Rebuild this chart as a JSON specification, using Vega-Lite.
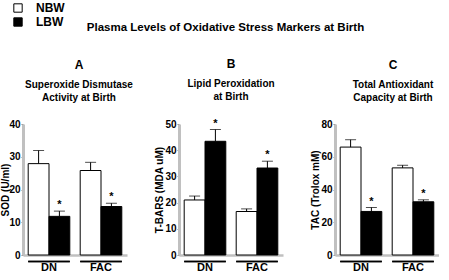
{
  "$schema": "https://vega.github.io/schema/vega-lite/v6.json",
  "padding": {"left": 0, "top": 2, "right": 0, "bottom": 0},
  "background": "white",
  "title": {"text": "Plasma Levels of Oxidative Stress Markers at Birth", "fontSize": 11.5, "fontWeight": "bold", "font": "Liberation Sans", "color": "black", "anchor": "middle", "offset": -31, "dx": 6},
  "datasets": {
    "oxid": [
      {"panel": "A", "group": "DN", "bw": "NBW", "value": 27.9, "upper": 31.9},
      {"panel": "A", "group": "DN", "bw": "LBW", "value": 11.8, "upper": 13.4},
      {"panel": "A", "group": "FAC", "bw": "NBW", "value": 25.8, "upper": 28.3},
      {"panel": "A", "group": "FAC", "bw": "LBW", "value": 14.8, "upper": 15.8},
      {"panel": "B", "group": "DN", "bw": "NBW", "value": 21.0, "upper": 22.5},
      {"panel": "B", "group": "DN", "bw": "LBW", "value": 43.4, "upper": 47.9},
      {"panel": "B", "group": "FAC", "bw": "NBW", "value": 16.6, "upper": 17.6},
      {"panel": "B", "group": "FAC", "bw": "LBW", "value": 33.2, "upper": 35.8},
      {"panel": "C", "group": "DN", "bw": "NBW", "value": 65.9, "upper": 70.4},
      {"panel": "C", "group": "DN", "bw": "LBW", "value": 26.6, "upper": 29.0},
      {"panel": "C", "group": "FAC", "bw": "NBW", "value": 53.2, "upper": 54.8},
      {"panel": "C", "group": "FAC", "bw": "LBW", "value": 32.5, "upper": 33.7}
    ]
  },
  "data": {"name": "oxid"},
  "bounds": "flush",
  "spacing": 52,
  "config": {
    "font": "Liberation Sans",
    "view": {"stroke": null},
    "axis": {"labelFont": "Liberation Sans", "titleFont": "Liberation Sans", "labelColor": "black", "titleColor": "black", "labelFontWeight": "bold", "titleFontWeight": "bold", "grid": false, "labelOverlap": false, "labelFlush": false},
    "axisY": {"domainColor": "#c0c0c0", "domainWidth": 3, "tickColor": "#888", "tickSize": 2, "labelFontSize": 10, "labelPadding": 1, "titleFontSize": 10, "titleBaseline": "middle"},
    "axisX": {"domainColor": "#c0c0c0", "domainWidth": 2.5, "ticks": false, "labelFontSize": 11, "labelPadding": 6, "labelAngle": 0, "title": null},
    "legend": {"title": null, "symbolType": "square", "symbolSize": 70, "symbolStrokeColor": "black", "symbolStrokeWidth": 1, "labelFont": "Liberation Sans", "labelFontSize": 12, "labelFontWeight": "bold", "labelColor": "black", "rowPadding": 0, "labelOffset": 12}
  },
  "hconcat": [
    {
      "width": 104, "height": 131,
      "title": {"text": "A", "subtitle": ["Superoxide Dismutase", "Activity at Birth"], "fontSize": 12, "fontWeight": "bold", "color": "black", "subtitleFontSize": 10, "subtitleFontWeight": "bold", "subtitleColor": "black", "subtitlePadding": 8, "subtitleLineHeight": 13, "offset": 15, "anchor": "middle", "dx": 4},
      "transform": [{"filter": "datum.panel == 'A'"}],
      "encoding": {"x": {"field": "group", "type": "nominal", "sort": ["DN", "FAC"], "scale": {"paddingInner": 0.2, "paddingOuter": 0.1}}},
      "layer": [
        {"mark": {"type": "bar", "stroke": "black", "strokeWidth": 1},
         "encoding": {
           "xOffset": {"field": "bw", "type": "nominal", "sort": ["NBW", "LBW"], "scale": {"paddingInner": 0, "paddingOuter": 0}},
           "y": {"field": "value", "type": "quantitative", "title": "SOD (U/ml)", "scale": {"domain": [0, 40], "nice": false}, "axis": {"values": [0, 10, 20, 30, 40], "titleX": -18, "labelOverlap": false}},
           "fill": {"field": "bw", "type": "nominal", "scale": {"domain": ["NBW", "LBW"], "range": ["white", "black"]}, "legend": {"orient": "none", "legendX": -11, "legendY": -122, "title": null}}}},
        {"mark": {"type": "rule", "color": "black", "strokeWidth": 1},
         "encoding": {
           "xOffset": {"field": "bw", "type": "nominal", "sort": ["NBW", "LBW"]},
           "y": {"field": "value", "type": "quantitative", "title": "SOD (U/ml)", "scale": {"domain": [0, 40], "nice": false}, "axis": {"values": [0, 10, 20, 30, 40], "titleX": -18, "labelOverlap": false}},
           "y2": {"field": "upper"}}},
        {"mark": {"type": "tick", "color": "black", "size": 11, "thickness": 1},
         "encoding": {
           "xOffset": {"field": "bw", "type": "nominal", "sort": ["NBW", "LBW"]},
           "y": {"field": "upper", "type": "quantitative", "title": "SOD (U/ml)", "scale": {"domain": [0, 40], "nice": false}, "axis": {"values": [0, 10, 20, 30, 40], "titleX": -18, "labelOverlap": false}}}},
        {"transform": [{"filter": "datum.bw == 'LBW'"}],
         "mark": {"type": "text", "text": "*", "baseline": "bottom", "dy": -1, "fontSize": 11, "fontWeight": "bold", "color": "black"},
         "encoding": {
           "xOffset": {"field": "bw", "type": "nominal", "sort": ["NBW", "LBW"]},
           "y": {"field": "upper", "type": "quantitative", "title": "SOD (U/ml)", "scale": {"domain": [0, 40], "nice": false}, "axis": {"values": [0, 10, 20, 30, 40], "titleX": -18, "labelOverlap": false}}}},
        {"mark": {"type": "bar", "color": "black", "clip": false},
         "encoding": {
           "y": {"datum": -1.75, "type": "quantitative", "title": "SOD (U/ml)", "scale": {"domain": [0, 40], "nice": false}, "axis": {"values": [0, 10, 20, 30, 40], "titleX": -18, "labelOverlap": false}},
           "y2": {"datum": -2.2}}}
      ]
    },
    {
      "width": 104, "height": 131,
      "title": {"text": "B", "subtitle": ["Lipid Peroxidation", "at Birth"], "fontSize": 12, "fontWeight": "bold", "color": "black", "subtitleFontSize": 10, "subtitleFontWeight": "bold", "subtitleColor": "black", "subtitlePadding": 8, "subtitleLineHeight": 13, "offset": 15, "anchor": "middle"},
      "transform": [{"filter": "datum.panel == 'B'"}],
      "encoding": {"x": {"field": "group", "type": "nominal", "sort": ["DN", "FAC"], "scale": {"paddingInner": 0.2, "paddingOuter": 0.1}}},
      "layer": [
        {"mark": {"type": "bar", "stroke": "black", "strokeWidth": 1},
         "encoding": {
           "xOffset": {"field": "bw", "type": "nominal", "sort": ["NBW", "LBW"], "scale": {"paddingInner": 0, "paddingOuter": 0}},
           "y": {"field": "value", "type": "quantitative", "title": "T-BARS (MDA uM)", "scale": {"domain": [0, 50], "nice": false}, "axis": {"values": [0, 10, 20, 30, 40, 50], "titleX": -20, "labelOverlap": false}},
           "fill": {"field": "bw", "type": "nominal", "scale": {"domain": ["NBW", "LBW"], "range": ["white", "black"]}, "legend": {"orient": "none", "legendX": -11, "legendY": -122, "title": null}}}},
        {"mark": {"type": "rule", "color": "black", "strokeWidth": 1},
         "encoding": {
           "xOffset": {"field": "bw", "type": "nominal", "sort": ["NBW", "LBW"]},
           "y": {"field": "value", "type": "quantitative", "title": "T-BARS (MDA uM)", "scale": {"domain": [0, 50], "nice": false}, "axis": {"values": [0, 10, 20, 30, 40, 50], "titleX": -20, "labelOverlap": false}},
           "y2": {"field": "upper"}}},
        {"mark": {"type": "tick", "color": "black", "size": 11, "thickness": 1},
         "encoding": {
           "xOffset": {"field": "bw", "type": "nominal", "sort": ["NBW", "LBW"]},
           "y": {"field": "upper", "type": "quantitative", "title": "T-BARS (MDA uM)", "scale": {"domain": [0, 50], "nice": false}, "axis": {"values": [0, 10, 20, 30, 40, 50], "titleX": -20, "labelOverlap": false}}}},
        {"transform": [{"filter": "datum.bw == 'LBW'"}],
         "mark": {"type": "text", "text": "*", "baseline": "bottom", "dy": -1, "fontSize": 11, "fontWeight": "bold", "color": "black"},
         "encoding": {
           "xOffset": {"field": "bw", "type": "nominal", "sort": ["NBW", "LBW"]},
           "y": {"field": "upper", "type": "quantitative", "title": "T-BARS (MDA uM)", "scale": {"domain": [0, 50], "nice": false}, "axis": {"values": [0, 10, 20, 30, 40, 50], "titleX": -20, "labelOverlap": false}}}},
        {"mark": {"type": "bar", "color": "black", "clip": false},
         "encoding": {
           "y": {"datum": -2.2, "type": "quantitative", "title": "T-BARS (MDA uM)", "scale": {"domain": [0, 50], "nice": false}, "axis": {"values": [0, 10, 20, 30, 40, 50], "titleX": -20, "labelOverlap": false}},
           "y2": {"datum": -2.75}}}
      ]
    },
    {
      "width": 104, "height": 131,
      "title": {"text": "C", "subtitle": ["Total Antioxidant", "Capacity at Birth"], "fontSize": 12, "fontWeight": "bold", "color": "black", "subtitleFontSize": 10, "subtitleFontWeight": "bold", "subtitleColor": "black", "subtitlePadding": 8, "subtitleLineHeight": 13, "offset": 15, "anchor": "middle", "dx": 6},
      "transform": [{"filter": "datum.panel == 'C'"}],
      "encoding": {"x": {"field": "group", "type": "nominal", "sort": ["DN", "FAC"], "scale": {"paddingInner": 0.2, "paddingOuter": 0.1}}},
      "layer": [
        {"mark": {"type": "bar", "stroke": "black", "strokeWidth": 1},
         "encoding": {
           "xOffset": {"field": "bw", "type": "nominal", "sort": ["NBW", "LBW"], "scale": {"paddingInner": 0, "paddingOuter": 0}},
           "y": {"field": "value", "type": "quantitative", "title": "TAC (Trolox mM)", "scale": {"domain": [0, 80], "nice": false}, "axis": {"values": [0, 20, 40, 60, 80], "titleX": -20, "labelOverlap": false}},
           "fill": {"field": "bw", "type": "nominal", "scale": {"domain": ["NBW", "LBW"], "range": ["white", "black"]}, "legend": {"orient": "none", "legendX": -11, "legendY": -122, "title": null}}}},
        {"mark": {"type": "rule", "color": "black", "strokeWidth": 1},
         "encoding": {
           "xOffset": {"field": "bw", "type": "nominal", "sort": ["NBW", "LBW"]},
           "y": {"field": "value", "type": "quantitative", "title": "TAC (Trolox mM)", "scale": {"domain": [0, 80], "nice": false}, "axis": {"values": [0, 20, 40, 60, 80], "titleX": -20, "labelOverlap": false}},
           "y2": {"field": "upper"}}},
        {"mark": {"type": "tick", "color": "black", "size": 11, "thickness": 1},
         "encoding": {
           "xOffset": {"field": "bw", "type": "nominal", "sort": ["NBW", "LBW"]},
           "y": {"field": "upper", "type": "quantitative", "title": "TAC (Trolox mM)", "scale": {"domain": [0, 80], "nice": false}, "axis": {"values": [0, 20, 40, 60, 80], "titleX": -20, "labelOverlap": false}}}},
        {"transform": [{"filter": "datum.bw == 'LBW'"}],
         "mark": {"type": "text", "text": "*", "baseline": "bottom", "dy": -1, "fontSize": 11, "fontWeight": "bold", "color": "black"},
         "encoding": {
           "xOffset": {"field": "bw", "type": "nominal", "sort": ["NBW", "LBW"]},
           "y": {"field": "upper", "type": "quantitative", "title": "TAC (Trolox mM)", "scale": {"domain": [0, 80], "nice": false}, "axis": {"values": [0, 20, 40, 60, 80], "titleX": -20, "labelOverlap": false}}}},
        {"mark": {"type": "bar", "color": "black", "clip": false},
         "encoding": {
           "y": {"datum": -3.5, "type": "quantitative", "title": "TAC (Trolox mM)", "scale": {"domain": [0, 80], "nice": false}, "axis": {"values": [0, 20, 40, 60, 80], "titleX": -20, "labelOverlap": false}},
           "y2": {"datum": -4.4}}}
      ]
    }
  ]
}
